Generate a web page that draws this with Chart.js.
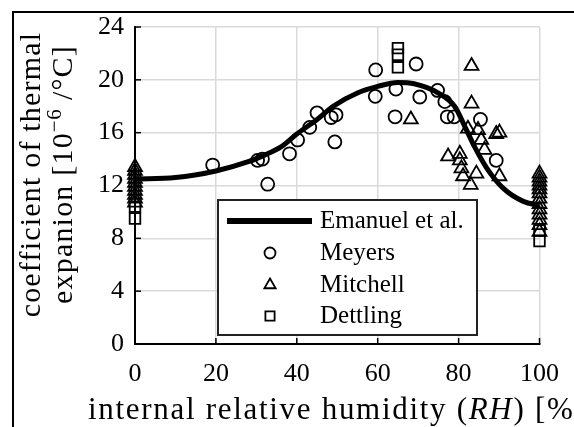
<!DOCTYPE html>
<html><head><meta charset="utf-8">
<script src="https://cdn.jsdelivr.net/npm/chart.js@4/dist/chart.umd.min.js"></script>
<style>html,body{margin:0;padding:0;background:#fff;}#wrap{width:574px;height:427px;}</style>
</head><body><div id="wrap"><canvas id="c" width="574" height="427"></canvas></div>
<script>
// Emanuel et al. model curve
const curveRH  = [0, 10, 20, 28, 32, 36, 40, 45, 49, 55, 60, 65, 69, 75, 79, 81.5, 84, 87, 91, 96, 100];
const curveCTE = [12.5, 12.6, 13.1, 13.8, 14.3, 14.9, 15.9, 17.0, 18.0, 19.0, 19.5, 19.8, 19.7, 19.0, 18.0, 16.5, 14.9, 13.3, 11.8, 10.8, 10.5];

// Meyers (circles)
const meyersRH  = [19.2, 30.3, 31.5, 32.8, 38.2, 40.2, 43.2, 45.0, 48.5, 49.7, 49.4, 59.5, 59.4, 64.5, 64.3, 69.5, 70.4, 74.8, 76.6, 77.2, 78.9, 85.4, 89.3];
const meyersCTE = [13.55, 13.9, 14.0, 12.1, 14.4, 15.45, 16.4, 17.5, 17.15, 17.35, 15.3, 20.75, 18.75, 19.3, 17.2, 21.2, 18.7, 19.2, 18.35, 17.2, 17.2, 17.0, 13.9];

// Mitchell (triangles)
const mitchellRH  = [0, 0, 0, 0, 0, 0, 0, 0, 0, 0,
  68.2, 83.2, 83.2, 82.3, 84.8, 89.3, 90.1, 85.6, 86.4, 77.4, 80.3, 80.3, 80.7, 81.1, 83.0, 84.4, 90.1,
  100, 100, 100, 100, 100, 100, 100, 100, 100, 100, 100, 100, 100];
const mitchellCTE = [13.4, 13.1, 12.8, 12.5, 12.2, 11.9, 11.6, 11.3, 11.0, 10.7,
  17.0, 21.05, 18.2, 16.3, 16.2, 15.9, 16.0, 15.45, 14.7, 14.2, 14.4, 13.9, 13.3, 12.7, 12.05, 12.9, 12.7,
  12.9, 12.6, 12.3, 12.0, 11.7, 11.4, 11.0, 10.6, 10.2, 9.8, 9.4, 9.0, 8.5];

// Dettling (squares)
const dettlingRH  = [0, 0, 65, 65, 65, 100, 100];
const dettlingCTE = [10.4, 9.5, 22.4, 21.9, 20.95, 8.6, 7.8];

const xTicks = [0, 20, 40, 60, 80, 100];
const yTicks = [0, 4, 8, 12, 16, 20, 24];

const seriesNames = ['Emanuel et al.', 'Meyers', 'Mitchell', 'Dettling'];
const xTitleRuns = [['internal relative humidity (', ''], ['RH', 'italic '], [') [%]', '']];
const yTitleLine1 = [['coefficient of thermal', '']];
const yTitleLine2 = [['expanion [10', ''], ['\u22126', 'sup'], [' /\u00B0C]', '']];

const pts = (xs, ys) => xs.map((v, i) => ({x: v, y: ys[i]}));

const TITLE_FAM = '"Liberation Serif"';

function drawRuns(ctx, runs, cx, baseY, px, ls) {
  const items = runs.map(([text, style]) => {
    const sup = style === 'sup';
    const font = sup ? `${Math.round(px * 0.7)}px ${TITLE_FAM}` : `${style}${px}px ${TITLE_FAM}`;
    ctx.font = font;
    ctx.letterSpacing = sup ? '0.5px' : ls + 'px';
    return {text, font, ls: ctx.letterSpacing, raise: sup ? 11 : 0, w: ctx.measureText(text).width};
  });
  const total = items.reduce((a, b) => a + b.w, 0);
  let x = cx - total / 2;
  items.forEach(it => {
    ctx.font = it.font; ctx.letterSpacing = it.ls;
    ctx.fillText(it.text, x, baseY - it.raise);
    x += it.w;
  });
}

const decor = {
  id: 'decor',
  afterDraw(chart) {
    const {ctx, chartArea: ca, scales: {x, y}} = chart;
    ctx.save();
    // inward tick marks
    ctx.strokeStyle = '#000'; ctx.lineWidth = 1.5;
    x.ticks.forEach(t => {
      const px = x.getPixelForValue(t.value);
      ctx.beginPath(); ctx.moveTo(px, ca.bottom); ctx.lineTo(px, ca.bottom - 6); ctx.stroke();
    });
    y.ticks.forEach(t => {
      const py = y.getPixelForValue(t.value);
      ctx.beginPath(); ctx.moveTo(ca.left, py); ctx.lineTo(ca.left + 6, py); ctx.stroke();
    });
    // outer frame (figure crop border)
    ctx.lineWidth = 2;
    ctx.beginPath(); ctx.moveTo(13, chart.height); ctx.lineTo(13, 12); ctx.lineTo(chart.width, 12); ctx.stroke();

    // axis titles
    ctx.fillStyle = '#000'; ctx.textAlign = 'left'; ctx.textBaseline = 'alphabetic';
    drawRuns(ctx, xTitleRuns, (ca.left + ca.right) / 2, 419, 31, 1.7);
    const cy = (ca.top + ca.bottom) / 2 - 11;
    ctx.save(); ctx.translate(40, cy); ctx.rotate(-Math.PI / 2); drawRuns(ctx, yTitleLine1, 0, 0, 30, 1.2); ctx.restore();
    ctx.save(); ctx.translate(72, cy); ctx.rotate(-Math.PI / 2); drawRuns(ctx, yTitleLine2, 0, 0, 30, 1.2); ctx.restore();
    ctx.letterSpacing = '0px';

    // legend box
    const bx = ca.left + 83, by = 200, bw = 259, bh = 135;
    ctx.fillStyle = '#fff'; ctx.fillRect(bx, by, bw, bh);
    ctx.strokeStyle = '#222'; ctx.lineWidth = 2; ctx.strokeRect(bx, by, bw, bh);
    const rows = [221, 253, 285, 316];
    ctx.font = '25px "Liberation Serif"';
    ctx.textBaseline = 'middle'; ctx.textAlign = 'left';
    chart.data.datasets.forEach((ds, i) => {
      const ry = rows[i];
      ctx.strokeStyle = '#000';
      if (i === 0) {
        ctx.lineWidth = 6;
        ctx.beginPath(); ctx.moveTo(bx + 9, ry); ctx.lineTo(bx + 94, ry); ctx.stroke();
      } else {
        ctx.lineWidth = 1.8; ctx.fillStyle = 'rgba(0,0,0,0)';
        Chart.helpers.drawPoint(ctx, {pointStyle: ds.pointStyle, radius: ds.legendRadius, rotation: 0, borderWidth: 1.8}, bx + 52, ry);
      }
      ctx.fillStyle = '#000';
      ctx.fillText(ds.label, bx + 102, ry);
    });
    ctx.restore();
  }
};

const tickFont = {family: '"Liberation Serif"', size: 26, lineHeight: 1.2};

new Chart(document.getElementById('c'), {
  type: 'scatter',
  data: {
    datasets: [
      {label: seriesNames[0], type: 'line', data: pts(curveRH, curveCTE), borderColor: '#000', borderWidth: 5,
       pointRadius: 0, fill: false, cubicInterpolationMode: 'monotone', clip: false},
      {label: seriesNames[1], data: pts(meyersRH, meyersCTE), pointStyle: 'circle', pointRadius: 6.5, legendRadius: 5.5,
       borderColor: '#000', backgroundColor: 'rgba(0,0,0,0)', pointBorderWidth: 1.8, clip: false},
      {label: seriesNames[2], data: pts(mitchellRH, mitchellCTE), pointStyle: 'triangle', pointRadius: 8, legendRadius: 6.5,
       borderColor: '#000', backgroundColor: 'rgba(0,0,0,0)', pointBorderWidth: 1.8, clip: false},
      {label: seriesNames[3], data: pts(dettlingRH, dettlingCTE), pointStyle: 'rect', pointRadius: 7.5, legendRadius: 6.5,
       borderColor: '#000', backgroundColor: 'rgba(0,0,0,0)', pointBorderWidth: 1.8, clip: false}
    ]
  },
  options: {
    responsive: false, animation: false, devicePixelRatio: 1,
    layout: {padding: {left: 0, top: 27, right: 32, bottom: 0}},
    plugins: {legend: {display: false}, tooltip: {enabled: false}},
    scales: {
      x: {
        type: 'linear', min: 0, max: 100,
        afterBuildTicks: s => { s.ticks = xTicks.map(v => ({value: v})); },
        afterFit: s => { s.height = 83; },
        ticks: {font: tickFont, color: '#000', padding: 15},
        grid: {color: '#dadada', lineWidth: 1.5, drawTicks: false},
        border: {display: true, color: '#000', width: 2},
        title: {display: false}
      },
      y: {
        type: 'linear', min: 0, max: 24,
        afterBuildTicks: s => { s.ticks = yTicks.map(v => ({value: v})); },
        afterFit: s => { s.width = 135; },
        ticks: {font: tickFont, color: '#000', padding: 11},
        grid: {color: '#dadada', lineWidth: 1.5, drawTicks: false},
        border: {display: true, color: '#000', width: 2},
        title: {display: false}
      }
    }
  },
  plugins: [decor]
});
</script>
</body></html>
